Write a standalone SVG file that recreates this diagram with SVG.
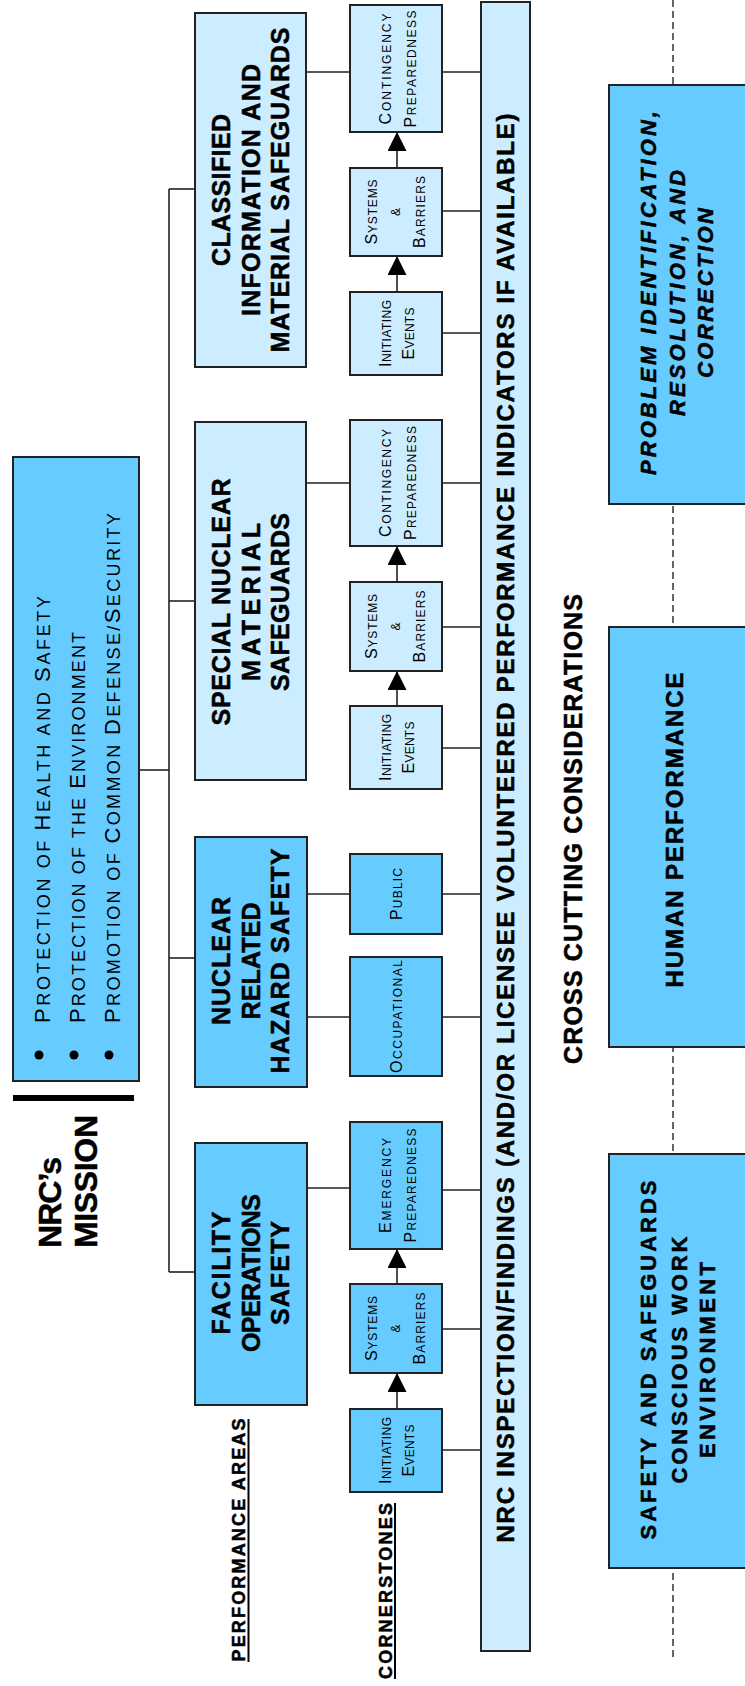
<svg xmlns="http://www.w3.org/2000/svg" width="745" height="1686" viewBox="0 0 745 1686">
<defs>
<style>
.bl{fill:#CCECFF;stroke:#222;stroke-width:2}
.bm{fill:#66CCFF;stroke:#222;stroke-width:2}
.c{stroke:#222;stroke-width:1.6;fill:none}
.dash{stroke:#333;stroke-width:1.5;stroke-dasharray:7 4;fill:none}
.t{font-family:"Liberation Sans",Arial,sans-serif;fill:#000;text-anchor:middle}
.b{font-weight:bold;stroke:#000;stroke-width:0.5}
.pa{font-size:25px}
.cs{font-size:12px}
.cb{font-size:16px}
.mi{font-size:18px}
.mb{font-size:22px}
</style>
<marker id="ah" viewBox="0 0 10 10" markerWidth="19" markerHeight="19" markerUnits="userSpaceOnUse" refX="10" refY="5" orient="auto">
<path d="M0,0 L10,5 L0,10 z" fill="#000"/>
</marker>
</defs>
<rect width="745" height="1686" fill="#fff"/>

<g id="connectors">
<line class="dash" x1="673" y1="0" x2="673" y2="1660"/>
<line class="c" x1="169" y1="189" x2="169" y2="1272"/>
<line class="c" x1="138" y1="770" x2="169" y2="770"/>
<line class="c" x1="169" y1="189" x2="195" y2="189"/>
<line class="c" x1="169" y1="601" x2="195" y2="601"/>
<line class="c" x1="169" y1="958" x2="195" y2="958"/>
<line class="c" x1="169" y1="1272" x2="195" y2="1272"/>
<line class="c" x1="306" y1="72" x2="350" y2="72"/>
<line class="c" x1="306" y1="483" x2="350" y2="483"/>
<line class="c" x1="307" y1="894" x2="350" y2="894"/>
<line class="c" x1="307" y1="1017" x2="350" y2="1017"/>
<line class="c" x1="307" y1="1188" x2="350" y2="1188"/>
<line class="c" x1="442" y1="72" x2="481" y2="72"/>
<line class="c" x1="442" y1="211" x2="481" y2="211"/>
<line class="c" x1="442" y1="333" x2="481" y2="333"/>
<line class="c" x1="442" y1="483" x2="481" y2="483"/>
<line class="c" x1="442" y1="627" x2="481" y2="627"/>
<line class="c" x1="442" y1="748" x2="481" y2="748"/>
<line class="c" x1="442" y1="894" x2="481" y2="894"/>
<line class="c" x1="442" y1="1017" x2="481" y2="1017"/>
<line class="c" x1="442" y1="1190" x2="481" y2="1190"/>
<line class="c" x1="442" y1="1329" x2="481" y2="1329"/>
<line class="c" x1="442" y1="1450" x2="481" y2="1450"/>
<line class="c" x1="397" y1="292" x2="397" y2="256" marker-end="url(#ah)"/>
<line class="c" x1="397" y1="168" x2="397" y2="132" marker-end="url(#ah)"/>
<line class="c" x1="397" y1="706" x2="397" y2="671" marker-end="url(#ah)"/>
<line class="c" x1="397" y1="582" x2="397" y2="546" marker-end="url(#ah)"/>
<line class="c" x1="397" y1="1409" x2="397" y2="1373" marker-end="url(#ah)"/>
<line class="c" x1="397" y1="1284" x2="397" y2="1249" marker-end="url(#ah)"/>
</g>

<g id="mission">
<rect class="bm" x="13" y="457" width="126" height="624"/>
<circle cx="39" cy="1055" r="4.5"/>
<circle cx="74" cy="1055" r="4.5"/>
<circle cx="109" cy="1055" r="4.5"/>
<text class="t mi" style="text-anchor:start" transform="translate(50,1023) rotate(-90)" textLength="427"><tspan class="mb">P</tspan>ROTECTION OF  <tspan class="mb">H</tspan>EALTH AND <tspan class="mb">S</tspan>AFETY</text>
<text class="t mi" style="text-anchor:start" transform="translate(85,1023) rotate(-90)" textLength="391"><tspan class="mb">P</tspan>ROTECTION OF THE <tspan class="mb">E</tspan>NVIRONMENT</text>
<text class="t mi" style="text-anchor:start" transform="translate(120,1023) rotate(-90)" textLength="510"><tspan class="mb">P</tspan>ROMOTION OF <tspan class="mb">C</tspan>OMMON <tspan class="mb">D</tspan>EFENSE/<tspan class="mb">S</tspan>ECURITY</text>
</g>

<g id="mission-title">
<rect x="13" y="1095" width="121" height="6" fill="#000"/>
<text class="t b" style="text-anchor:start;font-size:32px" transform="translate(61,1248) rotate(-90)" textLength="91">NRC’s</text>
<text class="t b" style="text-anchor:start;font-size:32px" transform="translate(97,1248) rotate(-90)" textLength="133">MISSION</text>
</g>

<g id="label-performance-areas">
<text class="t b" style="font-size:18px" transform="translate(245,1540) rotate(-90)" textLength="243">PERFORMANCE AREAS</text>
<line x1="248.5" y1="1419" x2="248.5" y2="1662" stroke="#000" stroke-width="2"/>
</g>
<g id="label-cornerstones">
<text class="t b" style="font-size:18px" transform="translate(392,1591) rotate(-90)" textLength="176">CORNERSTONES</text>
<line x1="395" y1="1503" x2="395" y2="1679" stroke="#000" stroke-width="2"/>
</g>

<g id="pa-classified">
<rect class="bl" x="195" y="13" width="111" height="354"/>
<text class="t b pa" transform="translate(230,190) rotate(-90)" textLength="152">CLASSIFIED</text>
<text class="t b pa" transform="translate(260,190) rotate(-90)" textLength="252">INFORMATION AND</text>
<text class="t b pa" transform="translate(289,190) rotate(-90)" textLength="325">MATERIAL SAFEGUARDS</text>
</g>
<g id="pa-special">
<rect class="bl" x="195" y="422" width="111" height="358"/>
<text class="t b pa" transform="translate(230,602) rotate(-90)" textLength="247">SPECIAL NUCLEAR</text>
<text class="t b pa" transform="translate(260,602) rotate(-90)" textLength="158">MATERIAL</text>
<text class="t b pa" transform="translate(289,602) rotate(-90)" textLength="178">SAFEGUARDS</text>
</g>
<g id="pa-nuclear">
<rect class="bm" x="195" y="837" width="112" height="250"/>
<text class="t b pa" transform="translate(230,961) rotate(-90)" textLength="128">NUCLEAR</text>
<text class="t b pa" transform="translate(260,961) rotate(-90)" textLength="117">RELATED</text>
<text class="t b pa" transform="translate(289,961) rotate(-90)" textLength="225">HAZARD SAFETY</text>
</g>
<g id="pa-facility">
<rect class="bm" x="195" y="1143" width="112" height="262"/>
<text class="t b pa" transform="translate(230,1273) rotate(-90)" textLength="123">FACILITY</text>
<text class="t b pa" transform="translate(260,1273) rotate(-90)" textLength="158">OPERATIONS</text>
<text class="t b pa" transform="translate(289,1273) rotate(-90)" textLength="104">SAFETY</text>
</g>

<g id="cs-cl-contingency">
<rect class="bl" x="350" y="5" width="92" height="127"/>
<text class="t cs" transform="translate(390.5,69) rotate(-90)" textLength="111"><tspan class="cb">C</tspan>ONTINGENCY</text>
<text class="t cs" transform="translate(415.5,69) rotate(-90)" textLength="117"><tspan class="cb">P</tspan>REPAREDNESS</text>
</g>
<g id="cs-cl-systems">
<rect class="bl" x="350" y="168" width="92" height="88"/>
<text class="t cs" transform="translate(376.5,212) rotate(-90)" textLength="65"><tspan class="cb">S</tspan>YSTEMS</text>
<text class="t cs" transform="translate(399.5,212) rotate(-90)">&amp;</text>
<text class="t cs" transform="translate(424.5,212) rotate(-90)" textLength="72"><tspan class="cb">B</tspan>ARRIERS</text>
</g>
<g id="cs-cl-initiating">
<rect class="bl" x="350" y="292" width="92" height="83"/>
<text class="t cs" transform="translate(390.5,333.5) rotate(-90)" textLength="67"><tspan class="cb">I</tspan>NITIATING</text>
<text class="t cs" transform="translate(413.5,333.5) rotate(-90)" textLength="52"><tspan class="cb">E</tspan>VENTS</text>
</g>

<g id="cs-sn-contingency">
<rect class="bl" x="350" y="420" width="92" height="126"/>
<text class="t cs" transform="translate(390.5,483) rotate(-90)" textLength="108"><tspan class="cb">C</tspan>ONTINGENCY</text>
<text class="t cs" transform="translate(415.5,483) rotate(-90)" textLength="114"><tspan class="cb">P</tspan>REPAREDNESS</text>
</g>
<g id="cs-sn-systems">
<rect class="bl" x="350" y="582" width="92" height="89"/>
<text class="t cs" transform="translate(376.5,626.5) rotate(-90)" textLength="65"><tspan class="cb">S</tspan>YSTEMS</text>
<text class="t cs" transform="translate(399.5,626.5) rotate(-90)">&amp;</text>
<text class="t cs" transform="translate(424.5,626.5) rotate(-90)" textLength="72"><tspan class="cb">B</tspan>ARRIERS</text>
</g>
<g id="cs-sn-initiating">
<rect class="bl" x="350" y="706" width="92" height="83"/>
<text class="t cs" transform="translate(390.5,747.5) rotate(-90)" textLength="67"><tspan class="cb">I</tspan>NITIATING</text>
<text class="t cs" transform="translate(413.5,747.5) rotate(-90)" textLength="52"><tspan class="cb">E</tspan>VENTS</text>
</g>

<g id="cs-nr-public">
<rect class="bm" x="350" y="854" width="92" height="80"/>
<text class="t cs" transform="translate(401.5,894) rotate(-90)" textLength="52"><tspan class="cb">P</tspan>UBLIC</text>
</g>
<g id="cs-nr-occupational">
<rect class="bm" x="350" y="957" width="92" height="119"/>
<text class="t cs" transform="translate(401.5,1016.5) rotate(-90)" textLength="113"><tspan class="cb">O</tspan>CCUPATIONAL</text>
</g>

<g id="cs-fo-emergency">
<rect class="bm" x="350" y="1122" width="92" height="127"/>
<text class="t cs" transform="translate(390.5,1185.5) rotate(-90)" textLength="95"><tspan class="cb">E</tspan>MERGENCY</text>
<text class="t cs" transform="translate(415.5,1185.5) rotate(-90)" textLength="114"><tspan class="cb">P</tspan>REPAREDNESS</text>
</g>
<g id="cs-fo-systems">
<rect class="bm" x="350" y="1284" width="92" height="89"/>
<text class="t cs" transform="translate(376.5,1328.5) rotate(-90)" textLength="65"><tspan class="cb">S</tspan>YSTEMS</text>
<text class="t cs" transform="translate(399.5,1328.5) rotate(-90)">&amp;</text>
<text class="t cs" transform="translate(424.5,1328.5) rotate(-90)" textLength="72"><tspan class="cb">B</tspan>ARRIERS</text>
</g>
<g id="cs-fo-initiating">
<rect class="bm" x="350" y="1409" width="92" height="83"/>
<text class="t cs" transform="translate(390.5,1450.5) rotate(-90)" textLength="67"><tspan class="cb">I</tspan>NITIATING</text>
<text class="t cs" transform="translate(413.5,1450.5) rotate(-90)" textLength="52"><tspan class="cb">E</tspan>VENTS</text>
</g>

<g id="inspection-bar">
<rect class="bl" x="481" y="2" width="49" height="1649"/>
<text class="t b" style="font-size:24px" transform="translate(514,828) rotate(-90)" textLength="1429">NRC INSPECTION/FINDINGS (AND/OR LICENSEE VOLUNTEERED PERFORMANCE INDICATORS IF AVAILABLE)</text>
</g>

<g id="cross-cutting-title">
<text class="t b" style="font-size:25px" transform="translate(582,829) rotate(-90)" textLength="470">CROSS CUTTING CONSIDERATIONS</text>
</g>

<g id="cc-problem">
<rect class="bm" x="609" y="85" width="150" height="419"/>
<text class="t b" style="font-size:22px;font-style:italic" transform="translate(656,293) rotate(-90)" textLength="364">PROBLEM IDENTIFICATION,</text>
<text class="t b" style="font-size:22px;font-style:italic" transform="translate(685,293) rotate(-90)" textLength="246">RESOLUTION, AND</text>
<text class="t b" style="font-size:22px;font-style:italic" transform="translate(713,293) rotate(-90)" textLength="170">CORRECTION</text>
</g>
<g id="cc-human">
<rect class="bm" x="609" y="627" width="150" height="420"/>
<text class="t b" style="font-size:24px" transform="translate(683,830) rotate(-90)" textLength="315">HUMAN PERFORMANCE</text>
</g>
<g id="cc-sscwe">
<rect class="bm" x="609" y="1154" width="150" height="414"/>
<text class="t b" style="font-size:22px" transform="translate(656,1360) rotate(-90)" textLength="359">SAFETY AND SAFEGUARDS</text>
<text class="t b" style="font-size:22px" transform="translate(687,1360) rotate(-90)" textLength="247">CONSCIOUS WORK</text>
<text class="t b" style="font-size:22px" transform="translate(715,1360) rotate(-90)" textLength="196">ENVIRONMENT</text>
</g>
</svg>
